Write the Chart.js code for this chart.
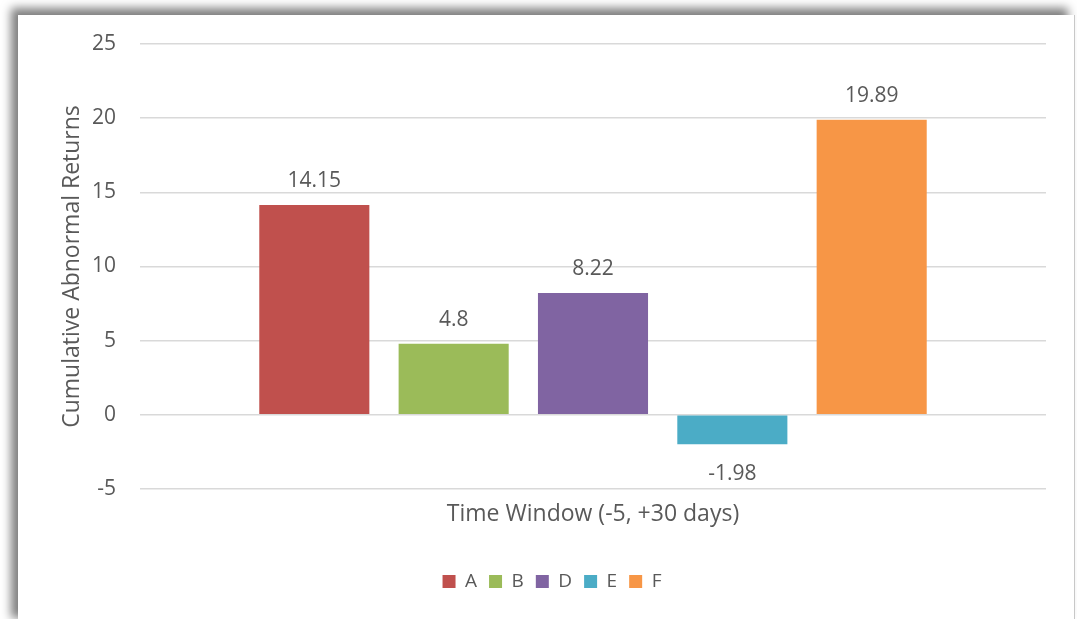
<!DOCTYPE html>
<html>
<head>
<meta charset="utf-8">
<script src="https://cdn.jsdelivr.net/npm/chart.js@4/dist/chart.umd.min.js"></script>
<style>
  html, body { margin: 0; padding: 0; background: #ffffff; width: 1077px; height: 619px; overflow: hidden; }
  #frame {
    position: absolute; left: 18px; top: 15px; width: 1057px; height: 610px;
    background: #ffffff;
    box-shadow: -7px -7px 9px rgba(0,0,0,0.5);
    border-right: 1px solid #c8c8c8;
    box-sizing: border-box;
  }
  #wrap { position: absolute; left: 0; top: 0; width: 1056px; height: 604px; }
</style>
</head>
<body>
<div id="frame"><div id="wrap"><canvas id="c"></canvas></div></div>
<script>
const categories = ["Time Window (-5, +30 days)"];
const seriesNames = ["A", "B", "D", "E", "F"];
const seriesValues = [14.15, 4.8, 8.22, -1.98, 19.89];
const seriesColors = ["#C0504D", "#9BBB59", "#8064A2", "#4BACC6", "#F79646"];
const yTicks = [-5, 0, 5, 10, 15, 20, 25];
const yTitle = "Cumulative Abnormal Returns";

const FONT = "'Open Sans', sans-serif";
const TEXT = "#595959";

const labelPlugin = {
  id: 'barLabels',
  afterDatasetsDraw(chart) {
    const ctx = chart.ctx;
    ctx.save();
    ctx.font = "21px " + FONT;
    ctx.fillStyle = TEXT;
    ctx.textAlign = 'center';
    ctx.textBaseline = 'alphabetic';
    chart.data.datasets.forEach((ds, i) => {
      const meta = chart.getDatasetMeta(i);
      meta.data.forEach((bar, j) => {
        const v = ds.data[j];
        if (v >= 0) {
          ctx.fillText(String(v), bar.x, bar.y - 18);
        } else {
          ctx.fillText(String(v), bar.x, bar.y + 36);
        }
      });
    });
    ctx.restore();
  }
};

new Chart(document.getElementById('c'), {
  type: 'bar',
  data: {
    labels: categories,
    datasets: seriesNames.map((n, i) => ({
      label: n,
      data: [seriesValues[i]],
      backgroundColor: seriesColors[i],
      borderWidth: 0,
      categoryPercentage: 0.769,
      barPercentage: 0.79
    }))
  },
  options: {
    responsive: true,
    maintainAspectRatio: false,
    animation: false,
    layout: { padding: { top: 29, right: 0, bottom: 18, left: 12 } },
    plugins: {
      legend: {
        position: 'bottom',
        labels: {
          font: { family: FONT, size: 19 },
          color: TEXT,
          boxWidth: 13,
          boxHeight: 13,
          padding: 12
        }
      },
      tooltip: { enabled: false }
    },
    scales: {
      x: {
        grid: { display: false, drawTicks: false },
        border: { display: false },
        ticks: { font: { family: FONT, size: 23 }, color: TEXT, padding: 12 },
        afterFit(s) { s.height = 71; s.paddingLeft = 0; s.paddingRight = 0; }
      },
      y: {
        min: -5, max: 25,
        afterBuildTicks(s) { s.ticks = yTicks.map(v => ({ value: v })); },
        grid: { color: "#D9D9D9", lineWidth: 1.5, drawTicks: false },
        border: { display: false },
        ticks: { font: { family: FONT, size: 21 }, color: TEXT, padding: 24 },
        title: { display: true, text: yTitle, font: { family: FONT, size: 23 }, color: TEXT, padding: { top: 29, bottom: 0 } },
        afterFit(s) { s.width = 110; s.paddingTop = 0; s.paddingBottom = 0; }
      },
      yRightSpacer: {
        type: 'linear',
        position: 'right',
        min: -5, max: 25,
        grid: { display: false, drawTicks: false },
        border: { display: false },
        ticks: { display: false },
        afterFit(s) { s.width = 28; s.paddingTop = 0; s.paddingBottom = 0; }
      }
    }
  },
  plugins: [labelPlugin]
});
</script>
</body>
</html>
